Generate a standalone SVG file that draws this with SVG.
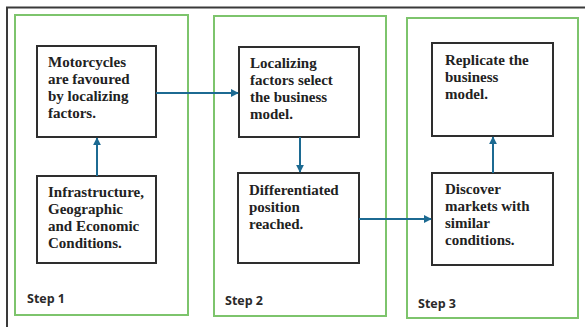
<svg xmlns="http://www.w3.org/2000/svg" width="585" height="327" viewBox="0 0 585 327">
<style>
.frame{fill:none;stroke:#3a3a3a;stroke-width:2}
.step{fill:none;stroke:#7dc46c;stroke-width:2}
.box{fill:#ffffff;stroke:#2e2e2e;stroke-width:2}
.t{font-family:"Liberation Serif","Times New Roman",serif;font-weight:bold;font-size:15px;fill:#222}
.s{font-family:"Open Sans","Liberation Sans",sans-serif;font-weight:bold;font-size:12.5px;fill:#2a2a2a}
.c{fill:none;stroke:#1c6a92;stroke-width:2}
</style>
<defs>
<marker id="ah" viewBox="0 0 10 10" refX="9" refY="5" markerWidth="4" markerHeight="4" orient="auto">
<path d="M0,0 L10,5 L0,10 z" fill="#1c6a92"/>
</marker>
</defs>
<rect width="585" height="327" fill="#ffffff"/>
<path class="frame" d="M7,327 V7.5 H585"/>
<g id="step1">
<rect class="step" x="15" y="15" width="173" height="300"/>
<text class="s" x="27" y="303">Step 1</text>
</g>
<g id="step2">
<rect class="step" x="214" y="16" width="172" height="300"/>
<text class="s" x="225" y="305">Step 2</text>
</g>
<g id="step3">
<rect class="step" x="407" y="18" width="171" height="300"/>
<text class="s" x="418" y="308">Step 3</text>
</g>
<g id="nodeA">
<rect class="box" x="37" y="46" width="119" height="91"/>
<text class="t"><tspan x="48" y="67">Motorcycles</tspan><tspan x="48" y="84">are favoured</tspan><tspan x="48" y="101">by localizing</tspan><tspan x="48" y="118">factors.</tspan></text>
</g>
<g id="nodeB">
<rect class="box" x="37" y="176" width="119" height="87"/>
<text class="t"><tspan x="48" y="197">Infrastructure,</tspan><tspan x="48" y="214">Geographic</tspan><tspan x="48" y="231">and Economic</tspan><tspan x="48" y="248">Conditions.</tspan></text>
</g>
<g id="nodeC">
<rect class="box" x="239" y="47" width="120" height="90"/>
<text class="t"><tspan x="250" y="68">Localizing</tspan><tspan x="250" y="85">factors select</tspan><tspan x="250" y="102">the business</tspan><tspan x="250" y="119">model.</tspan></text>
</g>
<g id="nodeD">
<rect class="box" x="238" y="173" width="121" height="90"/>
<text class="t"><tspan x="249" y="195">Differentiated</tspan><tspan x="249" y="212">position</tspan><tspan x="249" y="229">reached.</tspan></text>
</g>
<g id="nodeE">
<rect class="box" x="432" y="43" width="121" height="93"/>
<text class="t"><tspan x="445" y="65">Replicate the</tspan><tspan x="445" y="82">business</tspan><tspan x="445" y="99">model.</tspan></text>
</g>
<g id="nodeF">
<rect class="box" x="432" y="173" width="121" height="92"/>
<text class="t"><tspan x="445" y="194">Discover</tspan><tspan x="445" y="211">markets with</tspan><tspan x="445" y="228">similar</tspan><tspan x="445" y="245">conditions.</tspan></text>
</g>
<g id="connectors">
<line class="c" x1="97" y1="176" x2="97" y2="138" marker-end="url(#ah)"/>
<line class="c" x1="156" y1="93" x2="238" y2="93" marker-end="url(#ah)"/>
<line class="c" x1="300" y1="137" x2="300" y2="172" marker-end="url(#ah)"/>
<line class="c" x1="359" y1="219" x2="431" y2="219" marker-end="url(#ah)"/>
<line class="c" x1="493" y1="173" x2="493" y2="137" marker-end="url(#ah)"/>
</g>
</svg>
